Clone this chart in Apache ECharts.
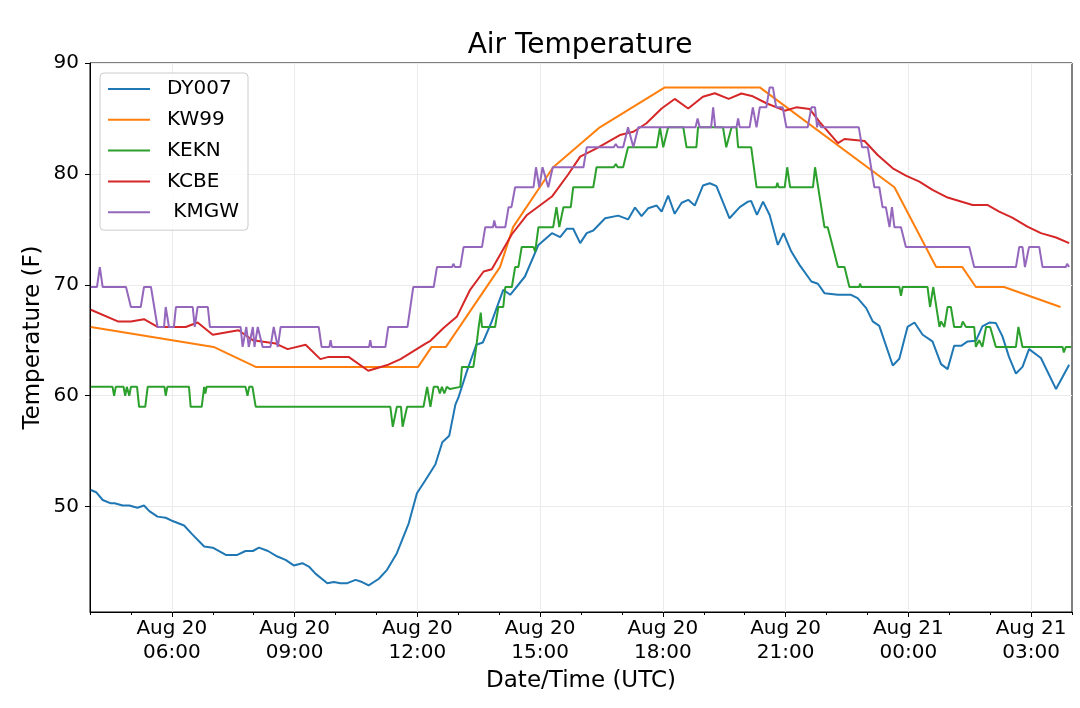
<!DOCTYPE html>
<html>
<head>
<meta charset="utf-8">
<script src="https://cdn.jsdelivr.net/npm/echarts@6/dist/echarts.min.js"></script>
<style>
  html, body { margin: 0; padding: 0; background: #fff; }
  #chart { width: 1080px; height: 708px; }
</style>
</head>
<body>
<div id="chart"></div>
<script>
// x values: hours since Aug 20 00:00 UTC, y values: deg F
var stationNames = ['DY007', 'KW99', 'KEKN', 'KCBE', ' KMGW'];
var stationColors = ['#1f77b4', '#ff7f0e', '#2ca02c', '#d62728', '#9467bd'];

var dy007 = [[4.02,51.5],[4.15,51.3],[4.31,50.6],[4.51,50.3],[4.6,50.3],[4.8,50.1],[4.96,50.1],[5.16,49.9],[5.32,50.1],[5.45,49.6],
  [5.65,49.1],[5.85,49.0],[6.02,48.7],[6.3,48.3],[6.5,47.5],[6.79,46.4],[7.0,46.3],[7.32,45.65],[7.6,45.65],[7.8,46.0],
  [7.98,46.0],[8.13,46.3],[8.35,46.0],[8.58,45.5],[8.78,45.2],[8.98,44.7],[9.19,44.9],[9.35,44.6],[9.51,43.96],[9.8,43.1],
  [9.96,43.2],[10.12,43.1],[10.29,43.1],[10.49,43.4],[10.65,43.2],[10.81,42.9],[11.06,43.5],[11.26,44.3],[11.5,45.8],[11.79,48.5],
  [11.99,51.2],[12.2,52.4],[12.44,53.8],[12.61,55.8],[12.78,56.4],[12.93,59.2],[13.0,59.8],[13.21,62.2],[13.44,64.6],[13.6,64.8],
  [13.82,66.7],[14.1,69.55],[14.27,69.1],[14.63,70.75],[14.96,73.6],[15.29,74.66],[15.49,74.3],[15.65,75.05],[15.81,75.05],[15.98,73.76],
  [16.14,74.66],[16.3,74.9],[16.59,76.0],[16.91,76.24],[17.15,75.9],[17.32,76.97],[17.48,76.2],[17.64,76.9],[17.85,77.15],[17.97,76.6],
  [18.13,78.05],[18.29,76.4],[18.46,77.4],[18.62,77.66],[18.78,77.15],[18.98,78.95],[19.15,79.16],[19.31,78.9],[19.63,76.0],[19.88,77.0],
  [20.08,77.5],[20.16,77.55],[20.3,76.3],[20.45,77.5],[20.61,76.3],[20.81,73.6],[20.95,74.66],[21.14,73.0],[21.34,71.8],[21.63,70.3],
  [21.79,70.1],[21.95,69.25],[22.28,69.1],[22.6,69.1],[22.76,68.8],[22.97,67.9],[23.13,66.7],[23.29,66.3],[23.62,62.73],[23.78,63.33],
  [23.98,66.2],[24.15,66.6],[24.35,65.5],[24.59,64.9],[24.8,62.85],[24.96,62.4],[25.12,64.5],[25.29,64.5],[25.45,64.9],[25.65,64.95],
  [25.81,66.25],[25.98,66.6],[26.14,66.55],[26.3,65.35],[26.46,63.5],[26.63,62.0],[26.79,62.6],[26.95,64.2],[27.24,63.4],[27.61,60.6],
  [27.93,62.8]];

var kw99 = [[4.02,66.2],[7.02,64.4],[8.05,62.6],[12.02,62.6],[12.35,64.4],[12.7,64.4],[14.02,71.6],[14.34,75.2],[15.32,80.6],
  [16.46,84.2],[18.05,87.8],[20.37,87.8],[23.66,78.8],[24.68,71.6],[25.32,71.6],[25.65,69.8],[26.34,69.8],[27.72,68.0]];

var kekn = [[4.02,60.8],[4.55,60.8],[4.59,60.0],[4.63,60.8],[4.82,60.8],[4.86,60.0],[4.9,60.8],[4.93,60.8],[4.96,60.0],[5.0,60.8],
  [5.15,60.8],[5.2,59.0],[5.35,59.0],[5.41,60.8],[5.82,60.8],[5.85,60.0],[5.89,60.8],[6.42,60.8],[6.46,59.0],[6.73,59.0],
  [6.79,60.8],[6.82,60.2],[6.85,60.8],[7.8,60.8],[7.85,60.0],[7.89,60.8],[7.97,60.8],[8.05,59.0],[11.34,59.0],[11.4,57.2],
  [11.5,59.0],[11.6,59.0],[11.64,57.2],[11.75,59.0],[12.15,59.0],[12.24,60.8],[12.32,59.0],[12.4,60.8],[12.5,60.8],[12.55,60.2],
  [12.6,60.8],[12.66,60.2],[12.72,60.8],[12.8,60.6],[13.05,60.8],[13.09,62.6],[13.37,62.6],[13.44,64.4],[13.5,66.2],[13.55,67.5],
  [13.58,66.2],[13.9,66.2],[13.98,68.0],[14.1,68.0],[14.15,69.8],[14.31,69.8],[14.39,71.6],[14.47,71.6],[14.55,73.4],[14.84,73.4],
  [14.88,73.0],[14.96,75.2],[15.32,75.2],[15.4,77.0],[15.47,75.2],[15.57,77.0],[15.75,77.0],[15.81,78.8],[16.3,78.8],[16.38,80.6],
  [16.8,80.6],[16.85,80.9],[16.9,80.6],[17.03,80.6],[17.15,82.4],[17.85,82.4],[17.93,84.2],[18.01,82.4],[18.13,84.2],[18.5,84.2],
  [18.58,82.4],[18.82,82.4],[18.86,84.2],[19.47,84.2],[19.55,82.4],[19.68,84.2],[19.8,84.2],[19.84,82.4],[20.16,82.4],[20.29,78.8],
  [20.77,78.8],[20.8,79.2],[20.83,78.8],[20.98,78.8],[21.04,80.6],[21.11,78.8],[21.67,78.8],[21.72,80.6],[21.83,78.0],[21.95,75.2],
  [22.03,75.2],[22.28,71.6],[22.44,71.6],[22.56,69.8],[22.8,69.8],[22.82,70.1],[22.85,69.8],[23.78,69.8],[23.82,69.0],[23.86,69.8],
  [24.47,69.8],[24.53,68.0],[24.61,69.8],[24.76,66.2],[24.8,66.7],[24.88,66.2],[24.96,68.0],[25.04,68.0],[25.12,66.2],[25.29,66.2],
  [25.33,66.7],[25.41,66.2],[25.61,66.2],[25.65,64.4],[25.73,65.0],[25.81,64.4],[25.9,66.2],[26.0,66.2],[26.14,64.4],[26.63,64.4],
  [26.69,66.2],[26.79,64.4],[27.77,64.4],[27.8,63.9],[27.85,64.4],[27.98,64.4]];

var kcbe = [[4.02,67.75],[4.68,66.7],[5.0,66.7],[5.32,66.9],[5.65,66.2],[5.93,66.2],[6.34,66.2],[6.63,66.6],[7.0,65.5],[7.63,65.9],
  [7.98,65.0],[8.54,64.7],[8.83,64.2],[9.27,64.6],[9.63,63.3],[9.83,63.5],[10.32,63.5],[10.8,62.25],[11.29,62.8],[11.59,63.3],
  [12.2,64.7],[12.32,64.95],[12.64,66.1],[12.97,67.15],[13.29,69.55],[13.62,71.2],[13.82,71.4],[14.31,74.56],[14.68,76.3],[15.29,77.96],
  [15.69,79.97],[15.98,81.56],[16.38,82.3],[16.95,83.5],[17.28,83.8],[17.6,84.57],[17.97,85.9],[18.29,86.76],[18.62,85.9],[18.98,86.96],
  [19.27,87.27],[19.61,86.76],[19.92,87.25],[20.2,87.0],[20.53,86.37],[20.98,85.7],[21.26,86.0],[21.59,85.85],[21.83,84.7],[22.28,82.77],
  [22.44,83.15],[22.93,82.97],[23.25,81.7],[23.62,80.5],[23.94,79.85],[24.27,79.3],[24.59,78.56],[24.96,77.87],[25.57,77.2],[25.93,77.2],
  [26.22,76.6],[26.54,76.06],[26.91,75.25],[27.24,74.66],[27.61,74.27],[27.93,73.76]];

var kmgw = [[4.02,69.8],[4.17,69.8],[4.24,71.6],[4.31,69.8],[4.88,69.8],[5.0,68.0],[5.24,68.0],[5.32,69.8],[5.49,69.8],[5.65,66.2],
  [5.81,66.2],[5.85,68.0],[5.93,66.2],[6.05,66.2],[6.1,68.0],[6.51,68.0],[6.56,66.2],[6.63,68.0],[6.88,68.0],[6.93,66.2],
  [7.68,66.2],[7.73,64.4],[7.82,66.2],[7.88,64.4],[7.98,66.2],[8.02,64.4],[8.1,66.2],[8.22,64.4],[8.41,64.4],[8.49,66.2],
  [8.59,64.4],[8.66,66.2],[9.59,66.2],[9.66,64.4],[9.85,64.4],[9.88,65.0],[9.91,64.4],[10.82,64.4],[10.85,65.0],[10.88,64.4],
  [11.22,64.4],[11.29,66.2],[11.76,66.2],[11.83,68.0],[11.9,69.8],[12.4,69.8],[12.48,71.6],[12.85,71.6],[12.88,71.9],[12.92,71.6],
  [13.05,71.6],[13.13,73.4],[13.58,73.4],[13.66,75.2],[13.85,75.2],[13.88,75.8],[13.92,75.2],[14.15,75.2],[14.23,77.0],[14.3,77.0],
  [14.39,78.8],[14.84,78.8],[14.9,80.6],[14.98,78.8],[15.06,80.6],[15.2,78.8],[15.31,80.6],[16.06,80.6],[16.14,82.4],[16.8,82.4],
  [16.85,82.7],[16.9,82.4],[17.03,82.4],[17.15,84.2],[17.28,82.4],[17.4,84.2],[18.8,84.2],[18.85,85.0],[18.9,84.2],[19.18,84.2],
  [19.23,86.0],[19.28,84.2],[19.8,84.2],[19.84,85.0],[19.88,84.2],[20.12,84.2],[20.2,86.0],[20.29,84.2],[20.37,86.0],[20.53,86.0],
  [20.61,87.8],[20.69,87.8],[20.77,86.0],[20.93,86.0],[21.02,84.2],[21.54,84.2],[21.63,86.0],[21.72,86.0],[21.77,84.2],[21.79,84.7],
  [21.87,84.2],[22.79,84.2],[22.87,82.4],[23.01,82.4],[23.17,78.8],[23.29,78.8],[23.37,77.0],[23.45,77.0],[23.54,75.2],[23.6,77.0],
  [23.66,75.2],[23.82,75.2],[23.94,73.4],[25.49,73.4],[25.61,71.6],[26.63,71.6],[26.71,73.4],[26.79,73.4],[26.85,71.6],[26.95,73.4],
  [27.2,73.4],[27.28,71.6],[27.85,71.6],[27.88,71.9],[27.93,71.6]];

var xMajorTicks = [6, 9, 12, 15, 18, 21, 24, 27];
var yTicks = [50, 60, 70, 80, 90];

function hourLabel(v) {
  var day = v < 24 ? 'Aug 20' : 'Aug 21';
  var h = v % 24;
  return day + '\n' + (h < 10 ? '0' : '') + h + ':00';
}

var font = 'DejaVu Sans';
var allData = [dy007, kw99, kekn, kcbe, kmgw];

var chart = echarts.init(document.getElementById('chart'), null, { renderer: 'canvas' });

var series = allData.map(function (d, i) {
  return {
    name: stationNames[i],
    type: 'line',
    data: d,
    xAxisIndex: 0,
    symbol: 'none',
    showSymbol: false,
    lineStyle: { width: 2, color: stationColors[i] },
    itemStyle: { color: stationColors[i] },
    animation: false
  };
});

var option = {
  animation: false,
  backgroundColor: '#fff',
  title: {
    text: 'Air Temperature',
    left: 575,
    top: 27,
    textAlign: 'center',
    textStyle: { fontFamily: font, fontSize: 28, fontWeight: 'normal', color: '#000' }
  },
  legend: {
    orient: 'vertical',
    left: 100,
    top: 73,
    padding: [6, 9, 8, 7],
    itemWidth: 42,
    itemHeight: 20,
    itemGap: 10.8,
    backgroundColor: 'rgba(255,255,255,0.8)',
    borderColor: '#cccccc',
    borderWidth: 1,
    borderRadius: 4,
    itemStyle: { opacity: 0 },
    lineStyle: { width: 2 },
    textStyle: { fontFamily: font, fontSize: 20, color: '#000', padding: [0, 0, 0, 12] },
    data: stationNames
  },
  grid: {
    left: 90, right: 8, top: 63, bottom: 96,
    show: true, borderColor: '#000', borderWidth: 1, backgroundColor: 'transparent'
  },
  xAxis: [{
    type: 'value',
    min: 4,
    max: 28,
    name: 'Date/Time (UTC)',
    nameLocation: 'middle',
    nameGap: 56,
    nameTextStyle: { fontFamily: font, fontSize: 23, color: '#000' },
    axisLine: { show: true, onZero: false, lineStyle: { color: '#000', width: 1 } },
    axisTick: { show: true, length: 5, customValues: xMajorTicks, lineStyle: { color: '#000' } },
    axisLabel: {
      customValues: xMajorTicks,
      formatter: hourLabel,
      fontFamily: font, fontSize: 20, color: '#000', lineHeight: 24, margin: 5
    },
    splitLine: { show: true, lineStyle: { color: '#ebebeb', width: 1 } }
  }, {
    type: 'value',
    min: 4,
    max: 28,
    interval: 1,
    position: 'bottom',
    axisLine: { show: false },
    axisTick: { show: true, length: 3, lineStyle: { color: '#000' } },
    axisLabel: { show: false },
    splitLine: { show: false }
  }],
  yAxis: {
    type: 'value',
    min: 40.5,
    max: 90,
    name: 'Temperature (F)',
    nameLocation: 'middle',
    nameGap: 45,
    nameMoveOverlap: false,
    nameTextStyle: { fontFamily: font, fontSize: 23, color: '#000' },
    axisLine: { show: true, onZero: false, lineStyle: { color: '#000', width: 1 } },
    axisTick: { show: true, length: 5, customValues: yTicks, lineStyle: { color: '#000' } },
    axisLabel: { customValues: yTicks, fontFamily: font, fontSize: 20, color: '#000', margin: 11 },
    splitLine: { show: true, lineStyle: { color: '#ebebeb', width: 1 } }
  },
  series: series
};

chart.setOption(option);
</script>
</body>
</html>
